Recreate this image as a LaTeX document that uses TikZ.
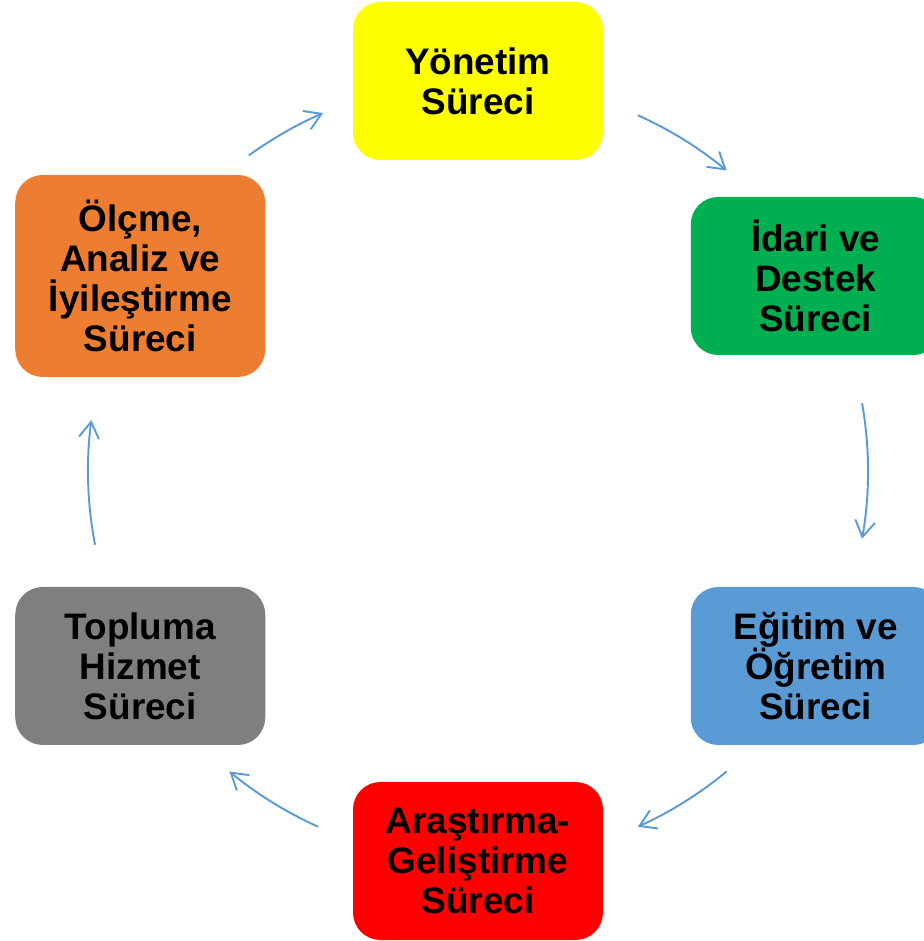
\documentclass[tikz,border=0pt]{standalone}
\usepackage{fontspec}
\setmainfont{Liberation Sans}
\usepackage{xcolor}
\usetikzlibrary{arrows.meta,positioning,calc}

\definecolor{yonetim}{HTML}{FFFF00}
\definecolor{idari}{HTML}{00B050}
\definecolor{egitim}{HTML}{5B9BD5}
\definecolor{arge}{HTML}{FF0000}
\definecolor{toplum}{HTML}{7F7F7F}
\definecolor{olcme}{HTML}{ED7D31}
\definecolor{cycline}{HTML}{5B9BD5}

\begin{document}
\begin{tikzpicture}[
    process/.style={rectangle, rounded corners=0.55cm, minimum width=5cm, minimum height=3.16cm, align=center, inner sep=0pt, font=\bfseries\fontsize{21}{22.8}\selectfont},
    cycarrow/.style={draw=cycline, line width=1.1pt, -{Straight Barb[length=0.32cm,width=0.4cm,line width=1.1pt]}}
]
\useasboundingbox (0,0) rectangle (18.48,18.82);

% Centre of the cycle
\coordinate (c) at (9.56,9.40);

% Nodes
\node[process, fill=yonetim] (mgmt) at ($(c)+(90:7.8)$) {Yönetim\\Süreci};
\node[process, fill=idari] (admin) at ($(c)+(30:7.8)$) {İdari ve\\Destek\\Süreci};
\node[process, fill=egitim] (edu) at ($(c)+(-30:7.8)$) {Eğitim ve\\Öğretim\\Süreci};
\node[process, fill=arge] (rnd) at ($(c)+(-90:7.8)$) {Araştırma-\\Geliştirme\\Süreci};
\node[process, fill=toplum] (service) at ($(c)+(-150:7.8)$) {Topluma\\Hizmet\\Süreci};
\node[process, fill=olcme, minimum height=4.04cm] (measure) at ($(c)+(150:7.8)$) {Ölçme,\\Analiz ve\\İyileştirme\\Süreci};

% Arrow start points
\coordinate (a1) at ($(c)+(65.8:7.8)$);
\coordinate (a2) at ($(c)+(10:7.8)$);
\coordinate (a3) at ($(c)+(-50.4:7.8)$);
\coordinate (a4) at ($(c)+(-114.2:7.8)$);
\coordinate (a5) at ($(c)+(-169.1:7.8)$);
\coordinate (a6) at ($(c)+(126:7.8)$);

% Arrows
\draw[cycarrow] (a1) arc[start angle=65.8, end angle=50.4, radius=7.8];
\draw[cycarrow] (a2) arc[start angle=10, end angle=-10, radius=7.8];
\draw[cycarrow] (a3) arc[start angle=-50.4, end angle=-65.8, radius=7.8];
\draw[cycarrow] (a4) arc[start angle=-114.2, end angle=-129.6, radius=7.8];
\draw[cycarrow] (a5) arc[start angle=-169.1, end angle=-187.5, radius=7.8];
\draw[cycarrow] (a6) arc[start angle=126, end angle=113.4, radius=7.8];

\end{tikzpicture}
\end{document}
